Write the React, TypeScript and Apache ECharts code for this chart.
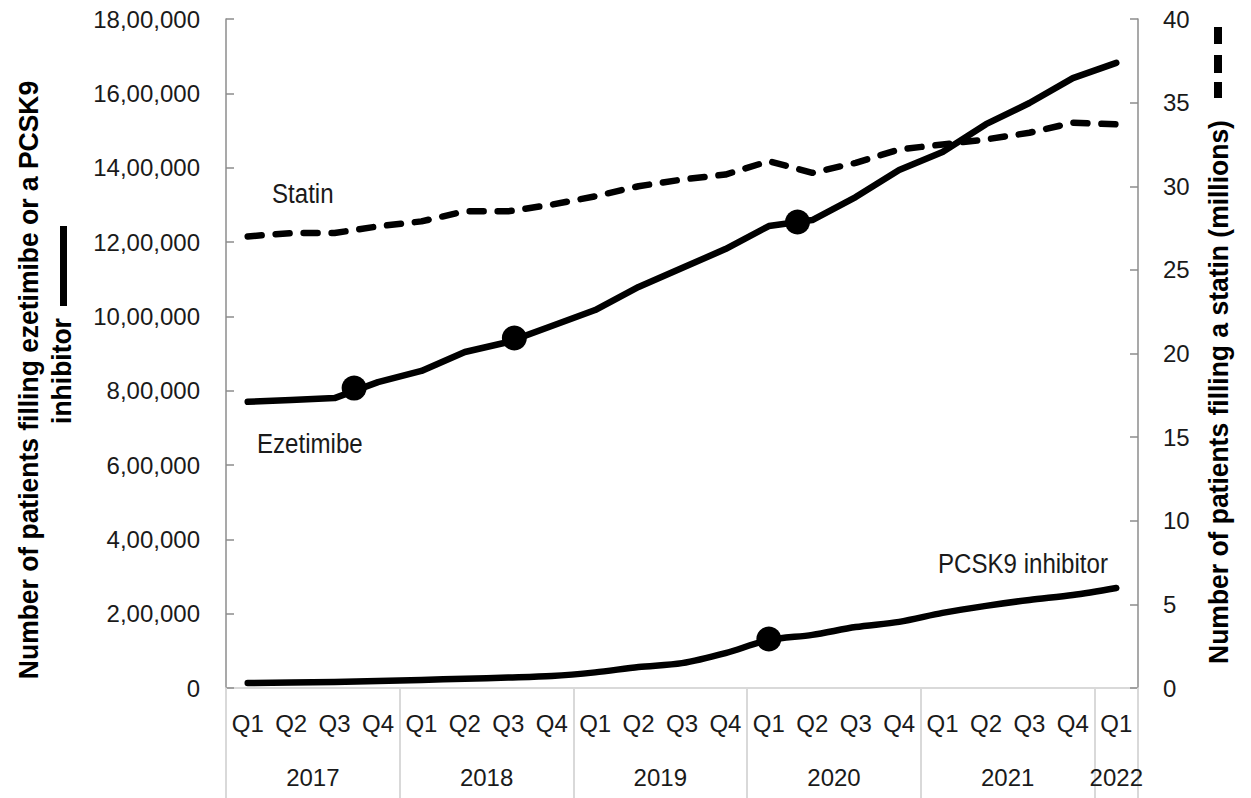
import React, { useEffect, useRef } from "react";
import * as echarts from "echarts";

const quarters = [
  "Q1", "Q2", "Q3", "Q4",
  "Q1", "Q2", "Q3", "Q4",
  "Q1", "Q2", "Q3", "Q4",
  "Q1", "Q2", "Q3", "Q4",
  "Q1", "Q2", "Q3", "Q4",
  "Q1",
];
const years = ["2017", "2018", "2019", "2020", "2021", "2022"];
const yearBoundaries = [0, 4, 8, 12, 16, 20, 21];
const yearCenters = [2, 6, 10, 14, 18, 20.5];

const ezetimibe = [
  770000, 775000, 780000, 823000, 853000, 904000, 931000, 974000, 1017000, 1079000,
  1130000, 1181000, 1243000, 1259000, 1321000, 1394000, 1442000, 1517000, 1574000,
  1641000, 1682000,
];
const pcsk9 = [
  13500, 14500, 16000, 19000, 21500, 25000, 28000, 32000, 42000, 56500, 67000, 94000,
  129000, 143000, 164000, 178000, 202000, 221000, 237000, 250000, 269000,
];
const statin = [
  27.0, 27.2, 27.2, 27.6, 27.9, 28.5, 28.5, 28.9, 29.4, 30.0, 30.4, 30.7, 31.5, 30.8,
  31.4, 32.2, 32.5, 32.8, 33.2, 33.8, 33.7,
];

// event markers (position in quarters from start of 2017, value on left axis)
const eventX = [2.95, 6.64, 13.16, 12.5];
const eventY = [807000, 941700, 1253800, 131800];

const leftTicks = { min: 0, max: 1800000, interval: 200000 };
const rightTicks = { min: 0, max: 40, interval: 5 };

const FONT = "'Liberation Sans', Arial, sans-serif";
const TICK_SIZE = 24;

function indian(n: number): string {
  const s = String(Math.round(n));
  if (s.length <= 3) return s;
  const last3 = s.slice(-3);
  let rest = s.slice(0, -3);
  const parts: string[] = [];
  while (rest.length > 2) {
    parts.unshift(rest.slice(-2));
    rest = rest.slice(0, -2);
  }
  if (rest.length) parts.unshift(rest);
  return parts.join(",") + "," + last3;
}

export default function App() {
  const ref = useRef<HTMLDivElement>(null);
  useEffect(() => {
    document.body.style.margin = "0";
    const chart = echarts.init(ref.current!, null, { renderer: "svg" });
    const axisGray = "#8c8c8c";
    const sepGray = "#d9d9d9";
    const textColor = "#1a1a1a";
    const titleScale = 0.945;
    const noteScale = 0.86;
    chart.setOption({
      animation: false,
      backgroundColor: "#ffffff",
      grid: { left: 226, right: 113, top: 19, bottom: 110 },
      xAxis: [
        {
          type: "category",
          data: quarters,
          boundaryGap: true,
          axisLine: { show: true, lineStyle: { color: sepGray, width: 2 } },
          axisTick: { show: false },
          axisLabel: {
            interval: 0,
            margin: 23,
            fontSize: TICK_SIZE,
            fontFamily: FONT,
            color: textColor,
          },
        },
        {
          type: "value",
          min: 0,
          max: 21,
          position: "bottom",
          axisLine: { show: false },
          splitLine: { show: false },
          axisTick: {
            show: true,
            inside: false,
            length: 110,
            customValues: yearBoundaries,
            lineStyle: { color: sepGray, width: 2 },
          },
          axisLabel: {
            show: true,
            margin: 77,
            customValues: yearCenters,
            fontSize: TICK_SIZE,
            fontFamily: FONT,
            color: textColor,
            formatter: (v: number) => {
              const i = yearCenters.indexOf(v);
              return i >= 0 ? years[i] : "";
            },
          },
        },
      ],
      yAxis: [
        {
          type: "value",
          ...leftTicks,
          position: "left",
          axisLine: { show: true, lineStyle: { color: axisGray, width: 1.5 } },
          axisTick: { show: true, inside: true, length: 8, lineStyle: { color: axisGray, width: 1.5 } },
          splitLine: { show: false },
          axisLabel: {
            margin: 26,
            fontSize: TICK_SIZE,
            fontFamily: FONT,
            color: textColor,
            formatter: (v: number) => indian(v),
          },
        },
        {
          type: "value",
          ...rightTicks,
          position: "right",
          axisLine: { show: true, lineStyle: { color: axisGray, width: 1.5 } },
          axisTick: { show: true, inside: true, length: 8, lineStyle: { color: axisGray, width: 1.5 } },
          splitLine: { show: false },
          axisLabel: {
            margin: 25,
            fontSize: TICK_SIZE,
            fontFamily: FONT,
            color: textColor,
          },
        },
      ],
      series: [
        {
          name: "Statin",
          type: "line",
          xAxisIndex: 0,
          yAxisIndex: 1,
          data: statin,
          symbol: "none",
          lineStyle: { color: "#000", width: 6.5, type: [14, 14], cap: "round", join: "round" },
        },
        {
          name: "Ezetimibe",
          type: "line",
          xAxisIndex: 0,
          yAxisIndex: 0,
          data: ezetimibe,
          symbol: "none",
          lineStyle: { color: "#000", width: 6.5, cap: "round", join: "round" },
        },
        {
          name: "PCSK9 inhibitor",
          type: "line",
          xAxisIndex: 0,
          yAxisIndex: 0,
          data: pcsk9,
          smooth: 0.3,
          symbol: "none",
          lineStyle: { color: "#000", width: 6.5, cap: "round", join: "round" },
        },
        {
          name: "events",
          type: "scatter",
          xAxisIndex: 1,
          yAxisIndex: 0,
          data: eventX.map((x, i) => [x, eventY[i]]),
          symbol: "circle",
          symbolSize: 25,
          itemStyle: { color: "#000", opacity: 1 },
          z: 5,
        },
      ],
      graphic: [
        {
          type: "text",
          x: 28,
          y: 380,
          rotation: Math.PI / 2,
          scaleX: titleScale,
          style: {
            text: "Number of patients filling ezetimibe or a PCSK9",
            font: `bold 28px ${FONT}`,
            fill: "#000",
            align: "center",
            verticalAlign: "middle",
          },
        },
        {
          type: "text",
          x: 61,
          y: 371,
          rotation: Math.PI / 2,
          scaleX: titleScale,
          style: {
            text: "inhibitor",
            font: `bold 28px ${FONT}`,
            fill: "#000",
            align: "center",
            verticalAlign: "middle",
          },
        },
        {
          type: "rect",
          shape: { x: 60, y: 226, width: 7, height: 80 },
          style: { fill: "#000" },
        },
        {
          type: "text",
          x: 1218,
          y: 392,
          rotation: Math.PI / 2,
          scaleX: titleScale,
          style: {
            text: "Number of patients filling a statin (millions)",
            font: `bold 28px ${FONT}`,
            fill: "#000",
            align: "center",
            verticalAlign: "middle",
          },
        },
        { type: "rect", shape: { x: 1214, y: 27, width: 8, height: 17 }, style: { fill: "#000" } },
        { type: "rect", shape: { x: 1214, y: 55, width: 8, height: 18 }, style: { fill: "#000" } },
        { type: "rect", shape: { x: 1214, y: 82, width: 8, height: 16 }, style: { fill: "#000" } },
        {
          type: "text",
          x: 272,
          y: 193,
          scaleX: noteScale,
          style: { text: "Statin", font: `28px ${FONT}`, fill: textColor, align: "left", verticalAlign: "middle" },
        },
        {
          type: "text",
          x: 257,
          y: 443,
          scaleX: noteScale,
          style: { text: "Ezetimibe", font: `28px ${FONT}`, fill: textColor, align: "left", verticalAlign: "middle" },
        },
        {
          type: "text",
          x: 938,
          y: 563,
          scaleX: noteScale,
          style: { text: "PCSK9 inhibitor", font: `28px ${FONT}`, fill: textColor, align: "left", verticalAlign: "middle" },
        },
      ],
    });
    return () => chart.dispose();
  }, []);
  return (
    <div
      ref={ref}
      style={{ position: "absolute", left: 0, top: 0, width: 1251, height: 798 }}
    />
  );
}
